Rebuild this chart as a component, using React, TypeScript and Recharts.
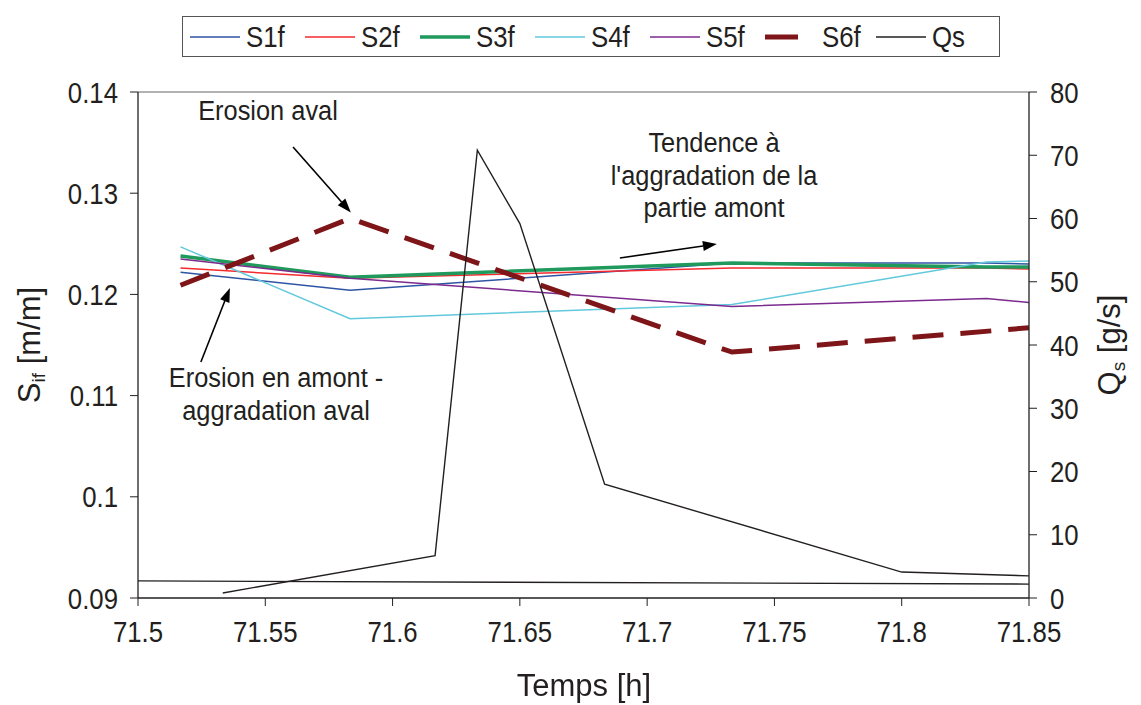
import { LineChart, Line, XAxis, YAxis, ReferenceLine } from 'recharts';

// time stamps [h]
const sTimes = [71.5167, 71.5833, 71.7333, 71.8333, 71.85];
const s6fTimes = [71.5167, 71.5833, 71.7333, 71.85];
const qsTimes = [71.5333, 71.6167, 71.6333, 71.65, 71.6833, 71.8, 71.85];
const qsBaseTimes = [71.5, 71.85];

// slopes S_if [m/m]
const s1f = [0.1222, 0.1204, 0.1231, 0.1231, 0.123];
const s2f = [0.1226, 0.1216, 0.1226, 0.1226, 0.1225];
const s3f = [0.1238, 0.1217, 0.1231, 0.1227, 0.1227];
const s4f = [0.1247, 0.1176, 0.119, 0.1232, 0.1233];
const s5f = [0.1235, 0.1216, 0.1188, 0.1196, 0.1192];
const s6f = [0.1209, 0.1275, 0.1143, 0.1167];

// sediment discharge Qs [g/s]
const qs = [0.8, 6.7, 70.8, 59.2, 18.0, 4.1, 3.5];
const qsBase = [2.7, 2.2];

const xTicks = [71.5, 71.55, 71.6, 71.65, 71.7, 71.75, 71.8, 71.85];
const leftTicks = [0.09, 0.1, 0.11, 0.12, 0.13, 0.14];
const rightTicks = [0, 10, 20, 30, 40, 50, 60, 70, 80];

const FONT = '"Liberation Sans", Arial, Helvetica, sans-serif';
const INK = '#231f20';
const SX = 0.86; // the original lettering is a bit narrow

const pts = (ts: number[], vs: number[]) => ts.map((t, i) => ({ t, v: vs[i] }));

const series = [
  { name: 'S1f', data: pts(sTimes, s1f), color: '#2e54a4', width: 1.5, axis: 'left', legend: true },
  { name: 'S2f', data: pts(sTimes, s2f), color: '#f42a2e', width: 1.5, axis: 'left', legend: true },
  { name: 'S3f', data: pts(sTimes, s3f), color: '#1f9a5c', width: 3.5, axis: 'left', legend: true },
  { name: 'S4f', data: pts(sTimes, s4f), color: '#62c8dc', width: 1.5, axis: 'left', legend: true },
  { name: 'S5f', data: pts(sTimes, s5f), color: '#7c2a8e', width: 1.5, axis: 'left', legend: true },
  { name: 'S6f', data: pts(s6fTimes, s6f), color: '#7e1518', width: 5, axis: 'left', dash: '31 17', legend: true },
  { name: 'Qs', data: pts(qsTimes, qs), color: INK, width: 1.4, axis: 'right', legend: true },
  { name: 'Qs0', data: pts(qsBaseTimes, qsBase), color: INK, width: 1.4, axis: 'right', legend: false },
];

// annotation arrows, in data units of the left axis
const arrows = [
  { from: [71.5609, 0.13457], to: [71.5836, 0.1281] },
  { from: [71.6893, 0.1236], to: [71.7274, 0.12498] },
  { from: [71.5247, 0.11332], to: [71.5361, 0.12063] },
];

const Arrow = (p: any) => {
  const { x1, y1, x2, y2 } = p;
  const a = Math.atan2(y2 - y1, x2 - x1);
  const L = 14, W = 5;
  const bx = x2 - L * Math.cos(a), by = y2 - L * Math.sin(a);
  const nx = -Math.sin(a) * W, ny = Math.cos(a) * W;
  return (
    <g>
      <line x1={x1} y1={y1} x2={bx} y2={by} stroke="#000" strokeWidth={1.6} />
      <polygon points={`${x2},${y2} ${bx + nx},${by + ny} ${bx - nx},${by - ny}`} fill="#000" />
    </g>
  );
};

const NarrowTick = (p: any) => {
  const { x, y, payload, textAnchor, verticalAnchor } = p;
  const dy = verticalAnchor === 'start' ? '0.71em' : '0.355em';
  return (
    <g transform={`translate(${x},${y}) scale(${SX},1)`}>
      <text x={0} y={0} dy={dy} textAnchor={textAnchor} fill={INK} fontSize={30} fontFamily={FONT}>
        {String(payload.value)}
      </text>
    </g>
  );
};

const Note = ({ x, y, lines }: { x: number; y: number; lines: string[] }) => (
  <div style={{
    position: 'absolute', left: x - 200, top: y, width: 400, textAlign: 'center',
    fontFamily: FONT, fontSize: 27, lineHeight: '32.5px', color: INK,
    transform: 'scaleX(0.94)',
  }}>
    {lines.map((l) => <div key={l}>{l}</div>)}
  </div>
);

const LegendBox = () => (
  <div style={{
    position: 'absolute', left: 182, top: 16, width: 816, height: 39,
    border: '1px solid #555', fontFamily: FONT, fontSize: 30, color: INK,
  }}>
    {series.filter((s) => s.legend).map((s, i) => {
      const left = i < 6 ? 5 + i * 115 : 5 + 5 * 115 + 111;
      return (
        <div key={s.name} style={{ position: 'absolute', left, top: 0, height: 39, display: 'flex', alignItems: 'center' }}>
          <svg width={s.dash ? 58 : 58} height={12}>
            <line x1={2} y1={6} x2={s.dash ? 35 : 52} y2={6} stroke={s.color} strokeWidth={s.width} />
          </svg>
          <span style={{
            display: 'inline-block', transform: `scaleX(${SX})`, transformOrigin: 'left center',
            marginLeft: s.dash ? 1 : 0,
          }}>{s.name}</span>
        </div>
      );
    })}
  </div>
);

const axisTitle = {
  position: 'absolute' as const, width: 240, height: 40, textAlign: 'center' as const,
  fontFamily: FONT, fontSize: 31, color: INK, lineHeight: '40px',
};

export default function App() {
  return (
    <div style={{ position: 'fixed', left: 0, top: 0, width: 1141, height: 705, background: '#fff' }}>
      <LineChart width={1141} height={705} margin={{ top: 92, right: 32, bottom: 47, left: 58 }}>
        <XAxis
          dataKey="t" type="number" domain={[71.5, 71.85]} ticks={xTicks} allowDataOverflow
          tick={<NarrowTick />} tickSize={8} tickMargin={15} height={60}
          axisLine={{ stroke: INK, strokeWidth: 1.3 }} tickLine={{ stroke: INK }}
        />
        <YAxis
          yAxisId="left" type="number" domain={[0.09, 0.14]} ticks={leftTicks} allowDataOverflow
          tick={<NarrowTick />} tickSize={8} tickMargin={12} width={80}
          axisLine={{ stroke: INK, strokeWidth: 1.3 }} tickLine={{ stroke: INK }}
        />
        <YAxis
          yAxisId="right" orientation="right" type="number" domain={[0, 80]} ticks={rightTicks} allowDataOverflow
          tick={<NarrowTick />} tickSize={8} tickMargin={13} width={80}
          axisLine={{ stroke: INK, strokeWidth: 1.3 }} tickLine={{ stroke: INK }}
        />
        <ReferenceLine yAxisId="left" y={0.14} stroke="#999" strokeWidth={1.3} />
        {series.map((s) => (
          <Line
            key={s.name} data={s.data} dataKey="v" name={s.name} yAxisId={s.axis} type="linear"
            stroke={s.color} strokeWidth={s.width} strokeDasharray={s.dash} dot={false} activeDot={false}
            isAnimationActive={false} legendType={s.legend ? 'line' : 'none'}
          />
        ))}
        {arrows.map((a, i) => (
          <ReferenceLine
            key={i} yAxisId="left"
            segment={[{ x: a.from[0], y: a.from[1] }, { x: a.to[0], y: a.to[1] }]}
            shape={Arrow}
          />
        ))}
      </LineChart>
      <LegendBox />
      <Note x={268} y={95} lines={['Erosion aval']} />
      <Note x={714} y={127} lines={['Tendence à', "l'aggradation de la", 'partie amont']} />
      <Note x={276} y={362} lines={['Erosion en amont -', 'aggradation aval']} />
      <div style={{ ...axisTitle, left: 584 - 120, top: 666 }}>Temps [h]</div>
      <div style={{ ...axisTitle, left: 30 - 120, top: 345 - 20, transform: 'rotate(-90deg)' }}>
        S<sub style={{ fontSize: 19, verticalAlign: -5 }}>if</sub> [m/m]
      </div>
      <div style={{ ...axisTitle, left: 1110 - 120, top: 345 - 20, transform: 'rotate(-90deg)' }}>
        Q<sub style={{ fontSize: 19, verticalAlign: -5 }}>s</sub> [g/s]
      </div>
    </div>
  );
}
